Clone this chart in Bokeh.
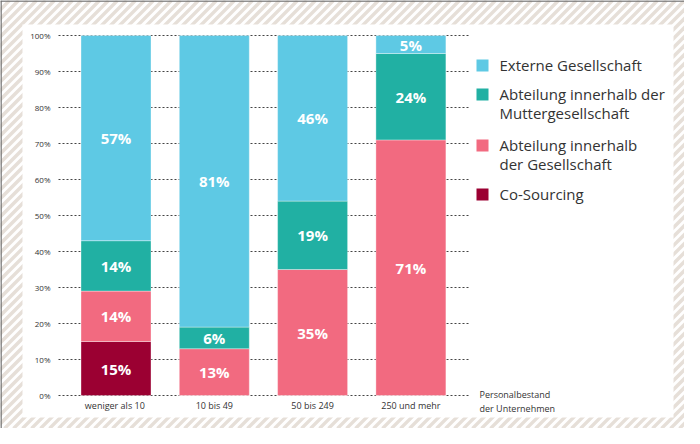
from bokeh.plotting import figure
from bokeh.models import Range1d, ColumnDataSource
from bokeh.core.properties import value
from bokeh.embed import file_html
from bokeh.resources import INLINE

# ---------------- data ----------------
categories = ["weniger als  10", "10 bis 49", "50 bis 249", "250 und mehr"]
series = ["Co-Sourcing", "Abteilung innerhalb der Gesellschaft",
          "Abteilung innerhalb der Muttergesellschaft", "Externe Gesellschaft"]
co_sourcing = [15, 0, 0, 0]
abteilung_gesellschaft = [14, 13, 35, 71]
abteilung_mutter = [14, 6, 19, 24]
externe = [57, 81, 46, 5]
y_ticks = [0, 10, 20, 30, 40, 50, 60, 70, 80, 90, 100]
y_tick_labels = ["0%", "10%", "20%", "30%", "40%", "50%", "60%", "70%", "80%", "90%", "100%"]
legend_order = ["Externe Gesellschaft", "Abteilung innerhalb der Muttergesellschaft",
                "Abteilung innerhalb der Gesellschaft", "Co-Sourcing"]
legend_labels = ["Externe Gesellschaft", "Abteilung innerhalb der\nMuttergesellschaft",
                 "Abteilung innerhalb\nder Gesellschaft", "Co-Sourcing"]
axis_title = "Personalbestand\nder Unternehmen"

colors = {
    "Co-Sourcing": "#9b0032",
    "Abteilung innerhalb der Gesellschaft": "#f26a80",
    "Abteilung innerhalb der Muttergesellschaft": "#21b0a3",
    "Externe Gesellschaft": "#5ec9e4",
}

# ---------------- layout (canvas pixels) ----------------
W, H = 684, 428
X_ORIGIN, X_STEP = 115.5, 98.3      # centre of first bar, bar spacing
Y_ZERO, PX_PER_PCT = 395.0, 3.6

def dx(px):
    return (px - X_ORIGIN) / X_STEP

def dy(py):
    return (Y_ZERO - py) / PX_PER_PCT

FONT = value("Open Sans")

p = figure(width=W, height=H, x_range=Range1d(dx(0), dx(W)), y_range=Range1d(dy(H), dy(0)),
           output_backend="svg", toolbar_location=None, min_border=0,
           x_axis_location=None, y_axis_location=None, outline_line_color=None,
           border_fill_color="white", background_fill_color="white")
p.grid.visible = False

# diagonal striped background (decoration, 45 degrees on screen)
STRIPE_STEP = 9
sx0, sy0, sx1, sy1 = [], [], [], []
for k in range(-H, W + STRIPE_STEP, STRIPE_STEP):
    sx0.append(dx(k)); sy0.append(dy(H))
    sx1.append(dx(k + H)); sy1.append(dy(0))
p.segment(x0=sx0, y0=sy0, x1=sx1, y1=sy1, line_color="#e6dfd8", line_width=3.4)

# white panel
p.quad(left=[dx(22)], right=[dx(673)], bottom=[dy(417)], top=[dy(24)],
       fill_color="white", line_color=None)
# frame border (top and left)
p.segment(x0=[dx(0), dx(0.5)], y0=[dy(0.5), dy(0)], x1=[dx(W), dx(0.5)], y1=[dy(0.5), dy(H)],
          line_color="#6e6e6e", line_width=1.5)

# dotted grid lines
p.segment(x0=[dx(58)] * len(y_ticks), x1=[dx(469)] * len(y_ticks), y0=y_ticks, y1=y_ticks,
          line_color="#444444", line_width=1, line_dash="2 2")
p.text(x=[dx(50)] * len(y_ticks), y=y_ticks, text=y_tick_labels, text_align="right",
       text_baseline="middle", text_font_size="8px", text_color="#333333", text_font=FONT)

# stacked bars
xs = list(range(len(categories)))
src = ColumnDataSource(dict(x=xs, **{
    "Co-Sourcing": co_sourcing,
    "Abteilung innerhalb der Gesellschaft": abteilung_gesellschaft,
    "Abteilung innerhalb der Muttergesellschaft": abteilung_mutter,
    "Externe Gesellschaft": externe,
}))
p.vbar_stack(series, x="x", width=70 / X_STEP, source=src,
             color=[colors[s] for s in series], line_color="white", line_width=0.6,
             line_alpha=0.6)

# value labels
vals = [co_sourcing, abteilung_gesellschaft, abteilung_mutter, externe]
lx, ly, lt = [], [], []
for i in xs:
    base = 0
    for v in vals:
        col = v[i]
        if col > 0:
            lx.append(i)
            ly.append(base + col / 2)
            lt.append(f"{col}%")
        base += col
p.text(x=lx, y=ly, text=lt, text_align="center", text_baseline="middle",
       text_font_size="15px", text_font_style="bold", text_color="white", text_font=FONT)

# category labels
p.text(x=xs, y=[dy(405)] * len(xs), text=categories, text_align="center",
       text_baseline="middle", text_font_size="9px", text_color="#333333", text_font=FONT)
p.text(x=[dx(479)], y=[dy(387)], text=[axis_title], text_align="left", text_baseline="top",
       text_font_size="9px", text_color="#333333", text_font=FONT, text_line_height=1.12)

# legend
leg_y = [65, 94, 145, 194]
p.scatter(x=[dx(482)] * 4, y=[dy(v) for v in leg_y], marker="square", size=12,
          color=[colors[s] for s in legend_order], line_color=None)
p.text(x=[dx(499)] * 4, y=[dy(v - 11) for v in leg_y], text=legend_labels,
       text_align="left", text_baseline="top", text_font_size="15px",
       text_color="#333333", text_font=FONT, text_line_height=0.98)

open("out.html", "w").write(file_html(p, INLINE))
